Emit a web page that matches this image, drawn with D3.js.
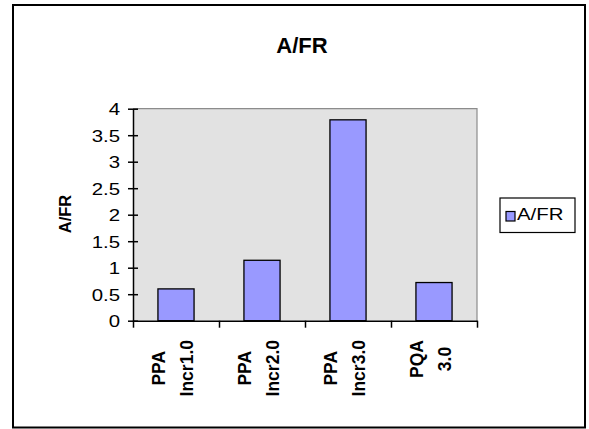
<!DOCTYPE html>
<html><head><meta charset="utf-8">
<script src="https://cdn.jsdelivr.net/npm/d3@7"></script>
<style>body{margin:0;background:#fff}svg{display:block}</style>
</head><body>
<svg id="c" width="589" height="429"></svg>
<script>
const categories = ["PPA Incr1.0", "PPA Incr2.0", "PPA Incr3.0", "PQA 3.0"];
const values = [0.6, 1.14, 3.79, 0.72];
const yTicks = [0, 0.5, 1, 1.5, 2, 2.5, 3, 3.5, 4];
const seriesName = "A/FR";
const chartTitle = "A/FR";
const yTitle = "A/FR";

const svg = d3.select("#c");
const font = "Arial, 'Liberation Sans', sans-serif";
const L = 133, R = 477, T = 108.7, B = 320.7;

svg.append("rect").attr("width", 589).attr("height", 429).attr("fill", "#fff");
svg.append("rect").attr("x", 13).attr("y", 5).attr("width", 572).attr("height", 422.5)
  .attr("fill", "none").attr("stroke", "#000").attr("stroke-width", 2);

const x = d3.scaleBand().domain(categories).range([L, R]).paddingInner(0.58).paddingOuter(0.29);
const xi = d3.scaleLinear().domain([0, categories.length]).range([L, R]);
const y = d3.scaleLinear().domain([0, 4]).range([B, T]);

// plot area
svg.append("rect").attr("x", L).attr("y", T).attr("width", R - L).attr("height", B - T).attr("fill", "#e2e2e2");
svg.append("path").attr("d", `M${L},${T}H${R}V${B}`).attr("fill", "none").attr("stroke", "#8c8c8c").attr("stroke-width", 1.2);

// bars
svg.selectAll(".bar").data(values).join("rect")
  .attr("x", (d, i) => x(categories[i]))
  .attr("y", d => y(d))
  .attr("width", x.bandwidth())
  .attr("height", d => y(0) - y(d))
  .attr("fill", "#9999ff").attr("stroke", "#000").attr("stroke-width", 1.3);

// y axis
const sx = 1.2;
const ya = svg.append("g").attr("transform", `translate(${L},0)`)
  .call(d3.axisLeft(y).tickValues(yTicks).tickSizeOuter(0).tickSizeInner(5).tickFormat(d3.format("")));
ya.select(".domain").attr("stroke", "#000").attr("stroke-width", 1.5);
ya.selectAll(".tick line").attr("x1", -5).attr("x2", 5).attr("stroke", "#000").attr("stroke-width", 1.5);
ya.selectAll(".tick text").attr("x", -13 / sx).attr("dy", "0.36em").attr("transform", `scale(${sx},1)`)
  .attr("font-family", font).attr("font-size", 17).attr("fill", "#000");

// x axis
const xa = svg.append("g").attr("transform", `translate(0,${B})`)
  .call(d3.axisBottom(xi).tickValues(d3.range(categories.length + 1)).tickSizeOuter(0).tickSizeInner(7).tickFormat(""));
xa.select(".domain").attr("stroke", "#000").attr("stroke-width", 1.5);
xa.selectAll(".tick line").attr("stroke", "#000").attr("stroke-width", 1.5);

// x labels (rotated, two lines)
categories.forEach(c => {
  const lines = c.split(" ");
  const cx = x(c) + x.bandwidth() / 2 - 3;
  const g = svg.append("g");
  const texts = lines.map((ln, j) => g.append("text").text(ln)
    .attr("font-family", font).attr("font-size", 17.5).attr("font-weight", "bold")
    .attr("fill", "#000").attr("text-anchor", "middle"));
  const maxLen = d3.max(texts, t => t.node().getComputedTextLength());
  const cy = 340 + maxLen / 2;
  texts.forEach((t, j) => {
    const bx = cx + (j - (lines.length - 1) / 2) * 28 + 6;
    t.attr("transform", `translate(${bx},${cy}) rotate(-90)`);
  });
});

// y title
svg.append("text").text(yTitle).attr("transform", "translate(70.5,214) rotate(-90)")
  .attr("text-anchor", "middle").attr("font-family", font).attr("font-size", 16.5)
  .attr("font-weight", "bold").attr("fill", "#000");

// title
svg.append("text").text(chartTitle).attr("x", 302).attr("y", 53).attr("text-anchor", "middle")
  .attr("font-family", font).attr("font-size", 22).attr("font-weight", "bold").attr("fill", "#000");

// legend
const lg = svg.append("g");
lg.append("rect").attr("x", 500).attr("y", 198).attr("width", 75).attr("height", 34.5)
  .attr("fill", "#fff").attr("stroke", "#000").attr("stroke-width", 1.2);
lg.append("rect").attr("x", 506).attr("y", 211.5).attr("width", 9).attr("height", 9.5)
  .attr("fill", "#9999ff").attr("stroke", "#000").attr("stroke-width", 1.2);
lg.append("text").text(seriesName).attr("x", 517 / 1.2).attr("y", 220).attr("transform", "scale(1.2,1)")
  .attr("font-family", font).attr("font-size", 17).attr("fill", "#000");
</script>
</body></html>
